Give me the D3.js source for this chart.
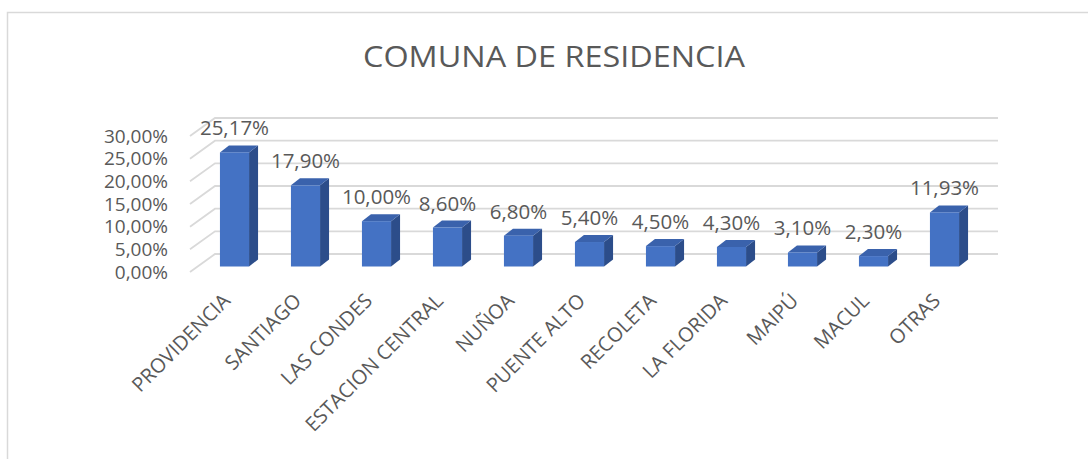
<!DOCTYPE html>
<html>
<head>
<meta charset="utf-8">
<script src="https://cdn.jsdelivr.net/npm/d3@7"></script>
<style>
  html, body { margin: 0; padding: 0; background: #fff; }
  svg { display: block; font-family: "Open Sans", sans-serif; }
</style>
</head>
<body>
<svg id="chart" width="1088" height="459"></svg>
<script>
// Data
const comunas = ['PROVIDENCIA', 'SANTIAGO', 'LAS CONDES', 'ESTACION CENTRAL', 'NUÑOA',
  'PUENTE ALTO', 'RECOLETA', 'LA FLORIDA', 'MAIPÚ', 'MACUL', 'OTRAS'];
const porcentajes = [25.17, 17.90, 10.00, 8.60, 6.80, 5.40, 4.50, 4.30, 3.10, 2.30, 11.93];
const yTicks = [0, 5, 10, 15, 20, 25, 30];
const title = 'COMUNA DE RESIDENCIA';

const fmt = v => v.toFixed(2).replace('.', ',') + '%';

const svg = d3.select('#chart');
const textColor = '#595959';
const gridColor = '#d9d9d9';

// chart border (cut off at right / bottom like the source)
svg.append('path')
  .attr('d', 'M7.5,470 V12.5 H1100')
  .attr('fill', 'none')
  .attr('stroke', gridColor)
  .attr('stroke-width', 1.5);

// title
svg.append('text')
  .attr('x', 554).attr('y', 67)
  .attr('text-anchor', 'middle')
  .attr('font-size', 29)
  .attr('fill', textColor)
  .attr('textLength', 382)
  .attr('lengthAdjust', 'spacingAndGlyphs')
  .text(title);

// 3D geometry: back wall + depth offset
const depth = { dx: 25, dy: -18 };
const wallX = [215, 998];
const yBack = d3.scaleLinear().domain([0, 30]).range([254, 118]);
const yFront = d3.scaleLinear().domain([0, 30]).range([266.5, 130.5]);

const x = d3.scaleBand()
  .domain(comunas)
  .range([199, 980])
  .paddingInner(0.59)
  .paddingOuter(0.295);

// gridlines (side wall slant + back wall)
const grid = svg.append('g').attr('stroke', gridColor).attr('stroke-width', 1.8).attr('fill', 'none');
yTicks.forEach(t => {
  const yb = yBack(t);
  grid.append('path')
    .attr('d', `M${wallX[0] - depth.dx},${yb - depth.dy} L${wallX[0]},${yb} H${wallX[1]}`);
});

// y axis labels (tight, as in the source)
svg.append('g').selectAll('text')
  .data(yTicks)
  .join('text')
  .attr('x', 168)
  .attr('y', d => yBack(d) - depth.dy)
  .attr('dy', '0.35em')
  .attr('text-anchor', 'end')
  .attr('font-size', 19)
  .attr('fill', textColor)
  .text(d => fmt(d));

// bars
const side = { dx: 9, dy: -7 };
const bars = svg.append('g').selectAll('g')
  .data(comunas.map((c, i) => ({ c, v: porcentajes[i] })))
  .join('g');

bars.each(function(d) {
  const g = d3.select(this);
  const x0 = x(d.c), x1 = x0 + x.bandwidth();
  const yt = yFront(d.v), yb = yFront(0);
  g.append('path')
    .attr('d', `M${x1},${yt} L${x1 + side.dx},${yt + side.dy} L${x1 + side.dx},${yb + side.dy} L${x1},${yb} Z`)
    .attr('fill', '#2c4d8a');
  g.append('path')
    .attr('d', `M${x0},${yt} L${x0 + side.dx},${yt + side.dy} L${x1 + side.dx},${yt + side.dy} L${x1},${yt} Z`)
    .attr('fill', '#3a62ac');
  g.append('rect')
    .attr('x', x0).attr('y', yt)
    .attr('width', x1 - x0).attr('height', yb - yt)
    .attr('fill', '#4472c4');
});

// data labels
svg.append('g').selectAll('text')
  .data(comunas.map((c, i) => ({ c, v: porcentajes[i] })))
  .join('text')
  .attr('x', d => x(d.c) + x.bandwidth() / 2)
  .attr('y', d => yFront(d.v) - 17)
  .attr('text-anchor', 'middle')
  .attr('font-size', 20.5)
  .attr('fill', textColor)
  .text(d => fmt(d.v));

// category labels, rotated
svg.append('g').selectAll('text')
  .data(comunas)
  .join('text')
  .attr('transform', d => `translate(${x(d) + x.bandwidth() / 2 - 3},302) rotate(-45)`)
  .attr('text-anchor', 'end')
  .attr('font-size', 20)
  .attr('fill', textColor)
  .text(d => d);
</script>
</body>
</html>
